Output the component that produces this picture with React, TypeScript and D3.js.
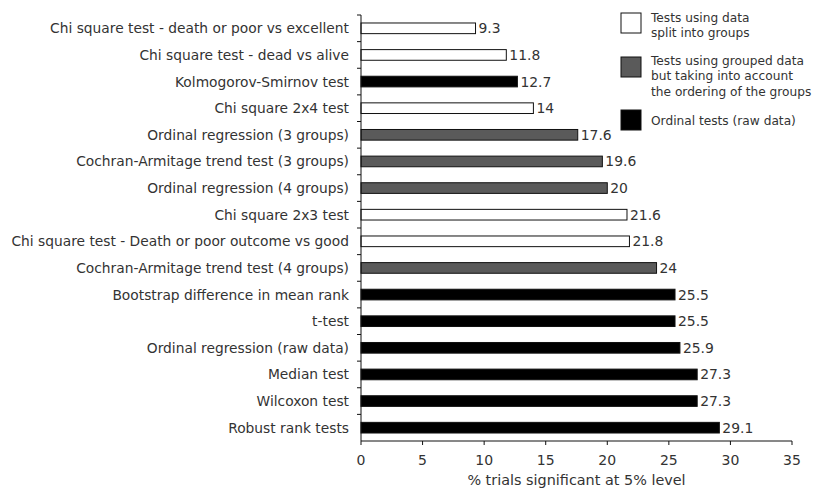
import React from "react";
import * as d3 from "d3";

const categories = [
  "Chi square test - death or poor vs excellent",
  "Chi square test - dead vs alive",
  "Kolmogorov-Smirnov test",
  "Chi square 2x4 test",
  "Ordinal regression (3 groups)",
  "Cochran-Armitage trend test (3 groups)",
  "Ordinal regression (4 groups)",
  "Chi square 2x3 test",
  "Chi square test - Death or poor outcome vs good",
  "Cochran-Armitage trend test (4 groups)",
  "Bootstrap difference in mean rank",
  "t-test",
  "Ordinal regression (raw data)",
  "Median test",
  "Wilcoxon test",
  "Robust rank tests",
];
const values = [9.3, 11.8, 12.7, 14, 17.6, 19.6, 20, 21.6, 21.8, 24, 25.5, 25.5, 25.9, 27.3, 27.3, 29.1];
const valueLabels = ["9.3", "11.8", "12.7", "14", "17.6", "19.6", "20", "21.6", "21.8", "24", "25.5", "25.5", "25.9", "27.3", "27.3", "29.1"];
const groups = ["split", "split", "raw", "split", "ordered", "ordered", "ordered", "split", "split", "ordered", "raw", "raw", "raw", "raw", "raw", "raw"];
const groupKeys = ["split", "ordered", "raw"];
const groupColors = ["#ffffff", "#5a5a5a", "#000000"];
const legendLines = [
  ["Tests using data", "split into groups"],
  ["Tests using grouped data", "but taking into account", "the ordering of the groups"],
  ["Ordinal tests (raw data)"],
];
const xTicks = [0, 5, 10, 15, 20, 25, 30, 35];
const xTitle = "% trials significant at 5% level";

export default function App() {
  const W = 814, H = 490;
  const left = 361, right = 792, top = 15, bottom = 441;
  const x = d3.scaleLinear().domain([0, 35]).range([left, right]);
  const y = d3.scaleBand().domain(categories).range([top, bottom]).paddingInner(0.6).paddingOuter(0.3);
  const yOuter = d3.scaleBand().domain(categories).range([top, bottom]);
  const color = d3.scaleOrdinal<string, string>().domain(groupKeys).range(groupColors);
  const font = "Verdana, 'DejaVu Sans', sans-serif";
  const textColor = "#333";
  const legendBoxY = [13, 57, 110];
  const legendTextY = [21.5, 65, 125];
  return (
    <svg width={W} height={H} style={{ position: "absolute", left: 0, top: 0, background: "#fff" }} fontFamily={font}>
      {/* bars */}
      {categories.map((c, i) => (
        <g key={c}>
          <rect
            x={x(0)}
            y={y(c)!}
            width={x(values[i]) - x(0)}
            height={y.bandwidth()}
            fill={color(groups[i])}
            stroke="#111"
            strokeWidth={1}
          />
          <text x={x(values[i]) + 3} y={y(c)! + y.bandwidth() / 2} dy="0.36em" fontSize={13.9} fill={textColor}>
            {valueLabels[i]}
          </text>
          <text x={left - 12} y={yOuter(c)! + yOuter.bandwidth() / 2} dy="0.36em" fontSize={13.8} fill={textColor} textAnchor="end">
            {c}
          </text>
        </g>
      ))}
      {/* y axis */}
      <line x1={left} x2={left} y1={top} y2={bottom} stroke="#111" />
      {categories.map((c) => (
        <line key={"t" + c} x1={left - 4} x2={left} y1={yOuter(c)!} y2={yOuter(c)!} stroke="#111" />
      ))}
      {/* x axis */}
      <line x1={left} x2={right} y1={bottom} y2={bottom} stroke="#111" />
      {xTicks.map((t) => (
        <g key={"x" + t}>
          <line x1={x(t)} x2={x(t)} y1={bottom} y2={bottom + 4} stroke="#111" />
          <text x={x(t)} y={bottom + 24} fontSize={14} fill={textColor} textAnchor="middle">
            {t}
          </text>
        </g>
      ))}
      <text x={(left + right) / 2} y={bottom + 44} fontSize={14.4} fill={textColor} textAnchor="middle">
        {xTitle}
      </text>
      {/* legend */}
      {groupKeys.map((g, i) => (
        <g key={"l" + g}>
          <rect x={621} y={legendBoxY[i]} width={20} height={20} fill={color(g)} stroke="#111" />
          {legendLines[i].map((line, j) => (
            <text key={j} x={651} y={legendTextY[i] + j * 15.3} fontSize={12.2} fill={textColor}>
              {line}
            </text>
          ))}
        </g>
      ))}
    </svg>
  );
}
